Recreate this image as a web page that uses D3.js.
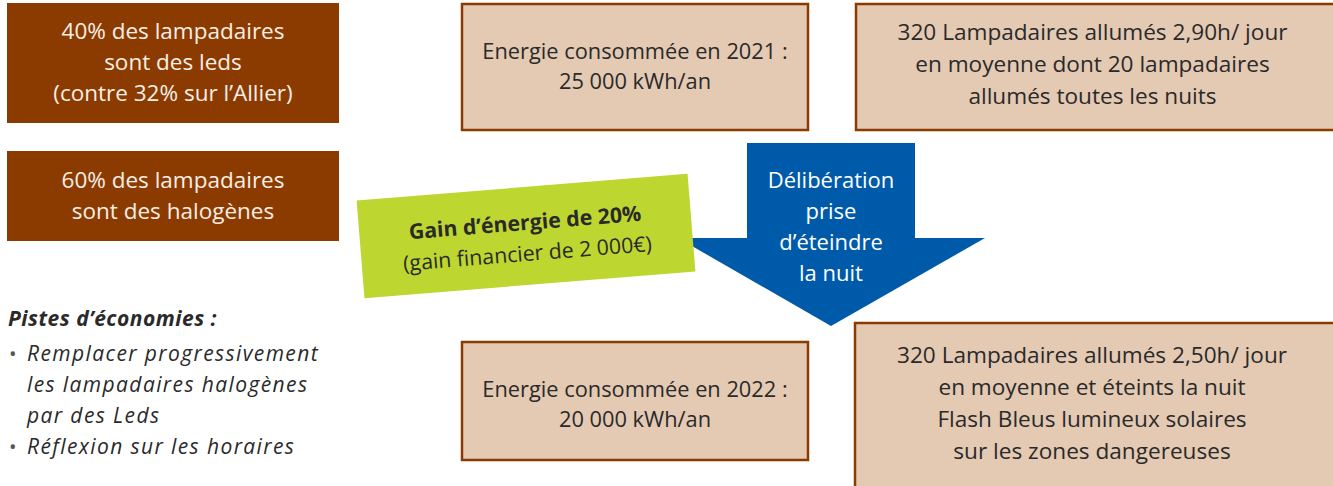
<!DOCTYPE html>
<html lang="fr">
<head>
  <meta charset="UTF-8">
  <title>Eclairage public</title>
  <script src="https://cdn.jsdelivr.net/npm/d3@7"></script>
  <style>
    body { margin: 0; background: #fff; }
    text { font-family: "Open Sans", sans-serif; }
  </style>
</head>
<body>
<div class="chart"></div>
<script>
  // texts of the infographic
  const ledsLines = ['40% des lampadaires', 'sont des leds', '(contre 32% sur l\u2019Allier)'];
  const halogenLines = ['60% des lampadaires', 'sont des halogènes'];
  const energy2021 = ['Energie consommée en 2021 :', '25 000 kWh/an'];
  const energy2022 = ['Energie consommée en 2022 :', '20 000 kWh/an'];
  const lamps2021 = ['320 Lampadaires allumés 2,90h/ jour', 'en moyenne dont 20 lampadaires', 'allumés toutes les nuits'];
  const lamps2022 = ['320 Lampadaires allumés 2,50h/ jour', 'en moyenne et éteints la nuit', 'Flash Bleus lumineux solaires', 'sur les zones dangereuses'];
  const arrowLines = ['Délibération', 'prise', 'd\u2019éteindre', 'la nuit'];
  const gainLines = ['Gain d\u2019énergie de 20%', '(gain financier de 2 000€)'];
  const pistesTitle = 'Pistes d\u2019économies :';
  const pistesItems = [['Remplacer progressivement', 'les lampadaires halogènes', 'par des Leds'], ['Réflexion sur les horaires']];

  const W = 1333, H = 486;
  const brown = '#8c3b00', beige = '#e4c9b3', ink = '#2a2a2a', blue = '#005aaa', green = '#bdd630';

  const svg = d3.select('.chart').append('svg').attr('width', W).attr('height', H);

  function lines(g, arr, x, y0, step, opts) {
    opts = opts || {};
    g.selectAll(null).data(arr).enter().append('text')
      .attr('x', x).attr('y', (d, i) => y0 + i * step)
      .attr('text-anchor', opts.anchor || 'middle')
      .attr('font-size', opts.size || 22.5)
      .attr('font-weight', (d, i) => (opts.bold && opts.bold(i)) ? 700 : 400)
      .attr('fill', opts.fill || ink)
      .text(d => d);
  }

  // dark brown boxes
  svg.append('rect').attr('x', 7).attr('y', 3).attr('width', 332).attr('height', 120).attr('fill', brown);
  svg.append('rect').attr('x', 7).attr('y', 151).attr('width', 332).attr('height', 90).attr('fill', brown);
  lines(svg, ledsLines, 173, 39, 31, {fill: '#f7eee6'});
  lines(svg, halogenLines, 173, 188, 31, {fill: '#f7eee6'});

  // beige boxes
  const beigeBoxes = [
    {x: 462, y: 4, w: 346, h: 126, t: energy2021, ty: 59, step: 30, size: 21.8},
    {x: 856, y: 4, w: 480, h: 126, t: lamps2021, ty: 40, step: 32, size: 22.6},
    {x: 462, y: 342, w: 346, h: 118, t: energy2022, ty: 397, step: 30, size: 21.8},
    {x: 855, y: 323, w: 481, h: 170, t: lamps2022, ty: 363, step: 32, size: 22.6}
  ];
  beigeBoxes.forEach(b => {
    svg.append('rect').attr('x', b.x).attr('y', b.y).attr('width', b.w).attr('height', b.h)
      .attr('fill', beige).attr('stroke', brown).attr('stroke-width', 2.5);
    const cx = b.x + Math.min(b.w, 1333 - b.x) / 2 - (b.w > 400 ? 2 : 0);
    lines(svg, b.t, cx, b.ty, b.step, {size: b.size});
  });

  // blue arrow
  const arrow = d3.path();
  arrow.moveTo(747, 143); arrow.lineTo(915, 143); arrow.lineTo(915, 238); arrow.lineTo(985, 238);
  arrow.lineTo(831, 326); arrow.lineTo(678, 238); arrow.lineTo(747, 238); arrow.closePath();
  svg.append('path').attr('d', arrow.toString()).attr('fill', blue);
  lines(svg, arrowLines, 831, 188, 31, {fill: '#fff', size: 22});

  // green tilted label
  const gg = svg.append('g').attr('transform', 'translate(526 236) rotate(-4.6)');
  gg.append('rect').attr('x', -166).attr('y', -49).attr('width', 332).attr('height', 98).attr('fill', green);
  lines(gg, gainLines, 0, -6, 31, {bold: i => i === 0, size: 21.3});

  // pistes
  svg.append('text').attr('x', 8).attr('y', 326).attr('font-size', 21).attr('font-weight', 700)
    .attr('font-style', 'italic').attr('letter-spacing', 0.5).attr('fill', ink).text(pistesTitle);
  let y = 361;
  pistesItems.forEach(item => {
    svg.append('text').attr('x', 9).attr('y', y).attr('font-size', 20).attr('fill', '#555').text('•');
    item.forEach(l => {
      svg.append('text').attr('x', 27).attr('y', y).attr('font-size', 21).attr('font-style', 'italic')
        .attr('letter-spacing', 1.4).attr('fill', ink).text(l);
      y += 31;
    });
  });
</script>
</body>
</html>
